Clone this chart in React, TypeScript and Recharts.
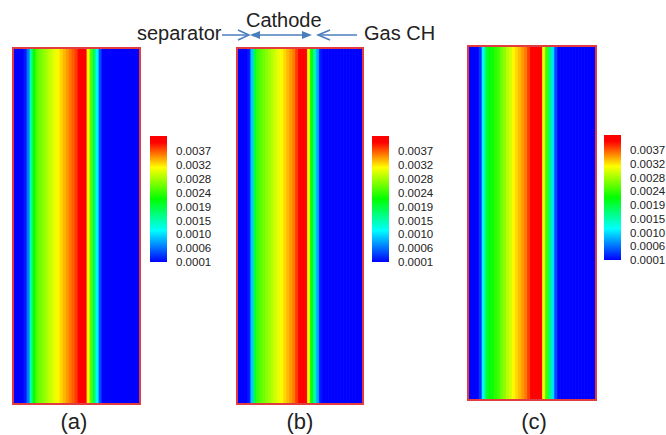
import React from "react"
import { BarChart, Bar, Cell, XAxis, YAxis, ComposedChart, ReferenceArea } from "recharts"

// concentration across the channel width, left to right, one value per ~3 px strip
const profileA = [
  0.0001, 0.0001, 0.0001, 0.0001, 0.0002, 0.0006, 0.0015, 0.0022, 0.0025, 0.0026,
  0.0027, 0.0028, 0.0029, 0.003, 0.0031, 0.0032, 0.0033, 0.0034, 0.0035, 0.0036,
  0.0037, 0.0038, 0.004, 0.0041, 0.004, 0.0032, 0.0025, 0.0018, 0.0011, 0.0004,
  0.0001, 0.0001, 0.0001, 0.0001, 0.0001, 0.0001, 0.0001, 0.0001, 0.0001, 0.0001,
  0.0001, 0.0001, 0.0001,
]

const profileB = [
  0.0001, 0.0001, 0.0001, 0.0001, 0.0002, 0.0009, 0.0019, 0.0024, 0.0025, 0.0026,
  0.0027, 0.0028, 0.0029, 0.003, 0.0031, 0.0032, 0.0033, 0.0034, 0.0035, 0.0036,
  0.0038, 0.004, 0.0041, 0.004, 0.0031, 0.0022, 0.0015, 0.0008, 0.0002, 0.0001,
  0.0001, 0.0001, 0.0001, 0.0001, 0.0001, 0.0001, 0.0001, 0.0001, 0.0001, 0.0001,
  0.0001, 0.0001, 0.0001,
]

const profileC = [
  0.0001, 0.0001, 0.0001, 0.0001, 0.0003, 0.0011, 0.0019, 0.0021, 0.0022, 0.0023,
  0.0024, 0.0026, 0.0027, 0.0029, 0.003, 0.0032, 0.0033, 0.0034, 0.0035, 0.0036,
  0.0038, 0.004, 0.0041, 0.0041, 0.004, 0.0031, 0.0024, 0.0017, 0.001, 0.0004,
  0.0001, 0.0001, 0.0001, 0.0001, 0.0001, 0.0001, 0.0001, 0.0001, 0.0001, 0.0001,
  0.0001, 0.0001, 0.0001,
]

// contour levels of the legend (evenly spaced) and the rounded text printed next to them
const colorbarLevels = [0.0001, 0.00055, 0.001, 0.00145, 0.0019, 0.00235, 0.0028, 0.00325, 0.0037]
const colorbarLabels = ["0.0001", "0.0006", "0.0010", "0.0015", "0.0019", "0.0024", "0.0028", "0.0032", "0.0037"]
const panelLabels = ["(a)", "(b)", "(c)"]
const regionLabels = ["separator", "Cathode", "Gas CH"]

const C_MIN = 0.0001
const C_MAX = 0.0042

const FONT = "'Liberation Sans', Arial, sans-serif"
const ARROW = "#4a7ebb"
const BORDER = "#e23b40"

const jetStops: [number, number[]][] = [
  [0, [0, 0, 255]],
  [0.25, [0, 255, 255]],
  [0.5, [0, 255, 0]],
  [0.75, [255, 255, 0]],
  [0.95, [255, 0, 0]],
  [1, [255, 0, 0]],
]

function jet(v: number) {
  const t = Math.max(0, Math.min(1, (v - C_MIN) / (C_MAX - C_MIN)))
  for (let k = 1; k < jetStops.length; k++) {
    const [t1, c1] = jetStops[k]
    const [t0, c0] = jetStops[k - 1]
    if (t <= t1) {
      const f = (t - t0) / (t1 - t0 || 1)
      const c = c0.map((a, j) => Math.round(a + (c1[j] - a) * f))
      return `rgb(${c[0]},${c[1]},${c[2]})`
    }
  }
  return "rgb(255,0,0)"
}

function Field({ profile, left, top, width, height }: { profile: number[]; left: number; top: number; width: number; height: number }) {
  const data = profile.map((c, i) => ({ i, c, span: 1 }))
  return (
    <div style={{ position: "absolute", left, top, width, height }}>
      <BarChart width={width} height={height} data={data} margin={{ top: 0, right: 0, bottom: 0, left: 0 }} barCategoryGap={0} barGap={0}>
        <XAxis dataKey="i" hide />
        <YAxis hide domain={[0, 1]} />
        <Bar dataKey="span" isAnimationActive={false}>
          {data.map((d) => (
            <Cell key={d.i} fill={jet(d.c)} stroke={jet(d.c)} strokeWidth={0.8} />
          ))}
        </Bar>
      </BarChart>
      <div style={{ position: "absolute", inset: 0, border: `2px solid ${BORDER}`, boxSizing: "border-box" }} />
    </div>
  )
}

function ColorBar({ id, left, top, height }: { id: string; left: number; top: number; height: number }) {
  const pad = 10
  const data = colorbarLevels.map((v) => ({ x: 0.5, v }))
  return (
    <div style={{ position: "absolute", left, top: top - pad }}>
      <ComposedChart width={17 + 60} height={height + pad * 2} data={data} margin={{ top: pad, right: 0, bottom: pad, left: 0 }}>
        <defs>
          <linearGradient id={id} x1="0" y1="1" x2="0" y2="0">
            {jetStops.map(([t, c]) => (
              <stop key={t} offset={t} stopColor={`rgb(${c[0]},${c[1]},${c[2]})`} />
            ))}
          </linearGradient>
        </defs>
        <XAxis type="number" dataKey="x" domain={[0, 1]} hide />
        <YAxis
          type="number"
          dataKey="v"
          orientation="right"
          domain={[C_MIN, C_MAX]}
          allowDataOverflow
          ticks={colorbarLevels}
          interval={0}
          tickFormatter={(v: number) => colorbarLabels[colorbarLevels.indexOf(v)]}
          axisLine={false}
          tickLine={false}
          tickSize={0}
          tickMargin={9}
          width={60}
          tick={{ fontSize: 11.5, fill: "#222", fontFamily: FONT }}
        />
        <ReferenceArea x1={0} x2={1} y1={C_MIN} y2={C_MAX} fill={`url(#${id})`} fillOpacity={1} stroke="none" ifOverflow="visible" />
      </ComposedChart>
    </div>
  )
}

export default function App() {
  return (
    <div style={{ position: "absolute", left: 0, top: 0, width: 666, height: 435, background: "#fff", overflow: "hidden" }}>
      <Field profile={profileA} left={12} top={47} width={129} height={358} />
      <Field profile={profileB} left={236} top={47} width={128} height={358} />
      <Field profile={profileC} left={467} top={45} width={130} height={356} />

      <ColorBar id="cbA" left={150} top={136} height={126} />
      <ColorBar id="cbB" left={372} top={136} height={126} />
      <ColorBar id="cbC" left={604} top={135} height={125} />

      <svg width={666} height={435} style={{ position: "absolute", left: 0, top: 0, pointerEvents: "none" }}>
        <g fontFamily={FONT} fontSize={20} fill="#222">
          <text x={137} y={40}>{regionLabels[0]}</text>
          <text x={246} y={27}>{regionLabels[1]}</text>
          <text x={364} y={40}>{regionLabels[2]}</text>
        </g>
        <g fontFamily={FONT} fontSize={22} fill="#222" textAnchor="middle">
          <text x={74} y={429}>{panelLabels[0]}</text>
          <text x={300} y={429}>{panelLabels[1]}</text>
          <text x={534} y={429}>{panelLabels[2]}</text>
        </g>
        <g stroke={ARROW} strokeWidth={1.5} fill="none">
          <line x1={222} y1={35} x2={248} y2={35} />
          <polyline points="238,30 249,35 238,40" />
          <line x1={256} y1={35} x2={306} y2={35} />
          <line x1={319} y1={35} x2={357} y2={35} />
          <polyline points="330,30 318,35 330,40" />
        </g>
        <g fill={ARROW}>
          <polygon points="250,35 260,31 260,39" />
          <polygon points="312,35 302,31 302,39" />
        </g>
      </svg>
    </div>
  )
}
